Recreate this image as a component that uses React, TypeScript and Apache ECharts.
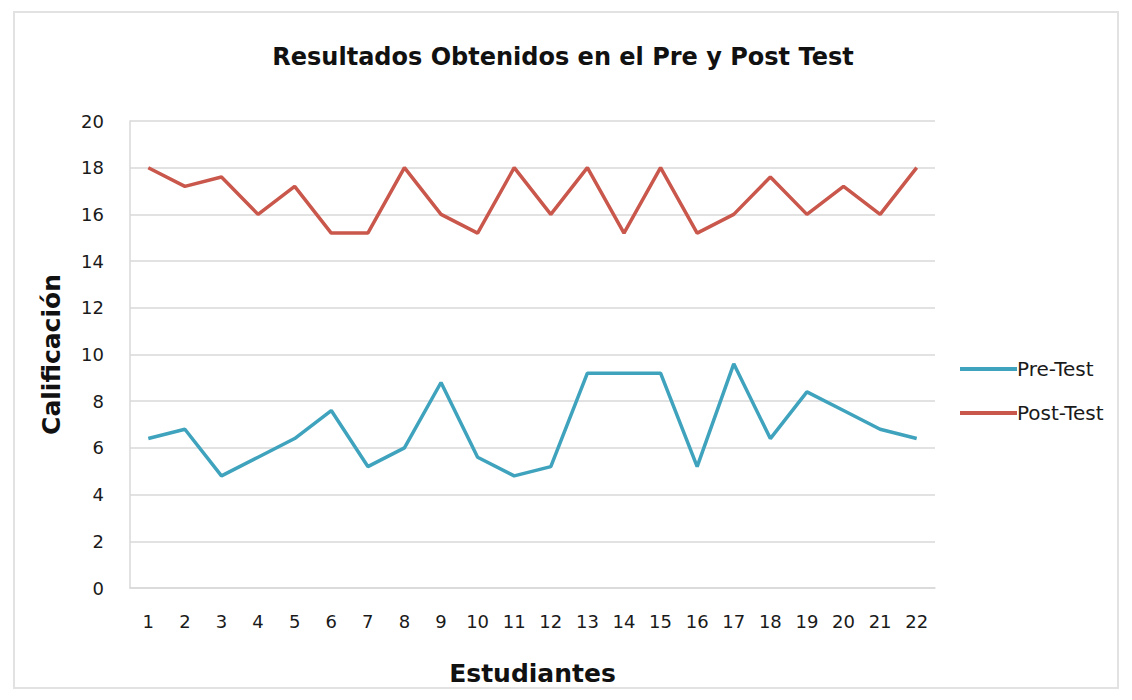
import React, { useEffect, useRef } from "react";
import * as echarts from "echarts";

const titleText = "Resultados Obtenidos en el Pre y Post Test";
const students = ["1","2","3","4","5","6","7","8","9","10","11","12","13","14","15","16","17","18","19","20","21","22"];
const preTest = [6.4, 6.8, 4.8, 5.6, 6.4, 7.6, 5.2, 6, 8.8, 5.6, 4.8, 5.2, 9.2, 9.2, 9.2, 5.2, 9.6, 6.4, 8.4, 7.6, 6.8, 6.4];
const postTest = [18, 17.2, 17.6, 16, 17.2, 15.2, 15.2, 18, 16, 15.2, 18, 16, 18, 15.2, 18, 15.2, 16, 17.6, 16, 17.2, 16, 18];

export default function App() {
  const ref = useRef<HTMLDivElement>(null);
  useEffect(() => {
    if (!ref.current) return;
    const chart = echarts.init(ref.current, null, { renderer: "svg" });
    const font = "DejaVu Sans";
    chart.setOption({
      animation: false,
      backgroundColor: "#ffffff",
      title: {
        text: titleText,
        left: 558,
        textAlign: "center",
        top: 40,
        textStyle: { fontFamily: font, fontSize: 24, fontWeight: "bold", color: "#111" },
      },
      graphic: [
        {
          type: "rect",
          shape: { x: 14, y: 12, width: 1104, height: 676 },
          style: { fill: "none", stroke: "#e2e2e2", lineWidth: 2 },
        },
      ],
      legend: {
        orient: "vertical",
        left: 955,
        top: 354,
        itemWidth: 57,
        itemHeight: 22,
        itemGap: 24,
        data: [
          { name: "Pre-Test", icon: "path://M0,9 L57,9 L57,13 L0,13 Z" },
          { name: "Post-Test", icon: "path://M0,9 L57,9 L57,13 L0,13 Z" },
        ],
        textStyle: { fontFamily: font, fontSize: 20, color: "#1a1a1a", padding: [0, 0, 0, -5] },
      },
      grid: { left: 130, right: 197, top: 121, bottom: 112, containLabel: false },
      xAxis: {
        type: "category",
        data: students,
        boundaryGap: true,
        name: "Estudiantes",
        nameLocation: "middle",
        nameGap: 73,
        nameTextStyle: { fontFamily: font, fontSize: 25, fontWeight: "bold", color: "#111" },
        axisLine: { show: true, lineStyle: { color: "#d9d9d9", width: 1.5 } },
        axisTick: { show: false },
        axisLabel: { fontFamily: font, fontSize: 18, color: "#1a1a1a", margin: 24 },
      },
      yAxis: {
        type: "value",
        min: 0,
        max: 20,
        interval: 2,
        name: "Calificación",
        nameLocation: "middle",
        nameGap: 66,
        nameRotate: 90,
        nameTextStyle: { fontFamily: font, fontSize: 25, fontWeight: "bold", color: "#111" },
        axisLine: { show: true, lineStyle: { color: "#d9d9d9", width: 1.5 } },
        axisTick: { show: false },
        axisLabel: { fontFamily: font, fontSize: 18, color: "#1a1a1a", margin: 26 },
        splitLine: { show: true, lineStyle: { color: "#d9d9d9", width: 1.5 } },
      },
      series: [
        {
          name: "Pre-Test",
          type: "line",
          data: preTest,
          symbol: "none",
          lineStyle: { color: "#3fa3bd", width: 3.5 },
          itemStyle: { color: "#3fa3bd" },
        },
        {
          name: "Post-Test",
          type: "line",
          data: postTest,
          symbol: "none",
          lineStyle: { color: "#c9574b", width: 3.5 },
          itemStyle: { color: "#c9574b" },
        },
      ],
    });
    return () => chart.dispose();
  }, []);
  return <div ref={ref} style={{ width: 1132, height: 700, position: "absolute", left: 0, top: 0 }} />;
}
